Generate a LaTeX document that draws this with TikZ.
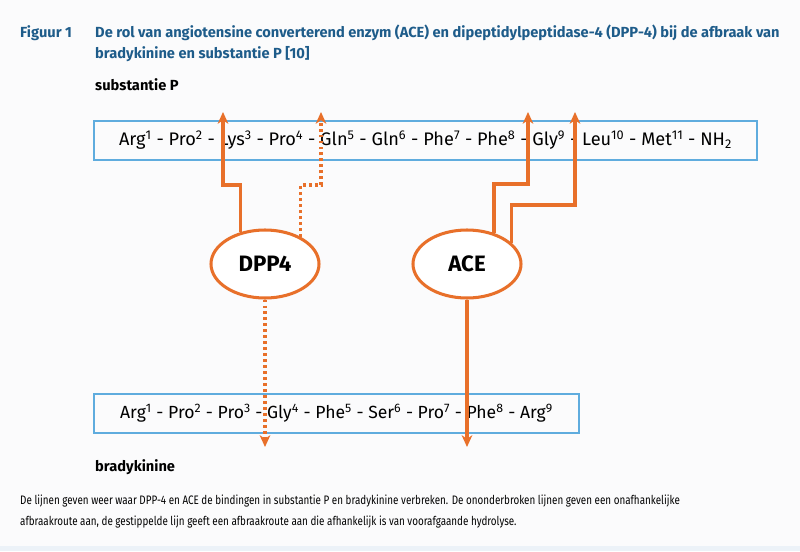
\documentclass[tikz,border=0pt]{standalone}
\usepackage{fontspec}
\setmainfont{Fira Sans}
\newfontfamily\condfont{Fira Sans}[FakeStretch=0.8]
\usepackage{xcolor}
\usetikzlibrary{shapes,arrows.meta,positioning,calc}
\definecolor{figblue}{RGB}{30,92,138}
\definecolor{cutorange}{RGB}{232,112,42}
\definecolor{boxblue}{RGB}{95,172,222}
\definecolor{pagebg}{RGB}{251,251,252}
\definecolor{stripbg}{RGB}{236,242,248}

\begin{document}
\begin{tikzpicture}[x=0.03cm,y=-0.03cm,
        chain/.style={draw=boxblue,line width=1.3pt,minimum height=1.17cm,inner sep=0pt,font=\fontsize{15.5}{18}\selectfont},
        enz/.style={ellipse,draw=cutorange,line width=2.6pt,fill=white,minimum width=3.24cm,minimum height=2.04cm,inner sep=0pt,font=\bfseries\fontsize{19}{19}\selectfont},
        cut/.style={draw=cutorange,line width=2.6pt,-{Stealth[length=10pt,width=9pt,inset=3pt]}},
        dots/.style={dash pattern=on 2.5pt off 2.6pt},
        lbl/.style={anchor=west,inner sep=0pt,font=\bfseries\fontsize{12.5}{17.8}\selectfont}]
    % page
    \fill[pagebg] (0,0) rectangle (800,551);
    \fill[stripbg] (0,546) rectangle (800,551);
    % caption
    \node[lbl,text=figblue] (fig) at (20,33) {Figuur 1};
    \node[lbl,text=figblue,anchor=north west,align=left] (title) at (95,25) {De rol van angiotensine converterend enzym (ACE) en dipeptidylpeptidase-4 (DPP-4) bij de afbraak van\\bradykinine en substantie P [10]};
    \node[lbl] (nameP) at (95,85) {substantie P};
    \node[lbl] (nameB) at (95,467) {bradykinine};
    % peptides
    \node[chain,minimum width=19.89cm] (subP) at (425.5,140.5) {Arg\textsuperscript{1} - Pro\textsuperscript{2} - Lys\textsuperscript{3} - Pro\textsuperscript{4} - Gln\textsuperscript{5} - Gln\textsuperscript{6} - Phe\textsuperscript{7} - Phe\textsuperscript{8} - Gly\textsuperscript{9} - Leu\textsuperscript{10} - Met\textsuperscript{11} - NH\textsubscript{2}};
    \node[chain,minimum width=14.55cm,font=\fontsize{15}{18}\selectfont] (brady) at (336.5,413.5) {Arg\textsuperscript{1} - Pro\textsuperscript{2} - Pro\textsuperscript{3} - Gly\textsuperscript{4} - Phe\textsuperscript{5} - Ser\textsuperscript{6} - Pro\textsuperscript{7} - Phe\textsuperscript{8} - Arg\textsuperscript{9}};
    % enzymes
    \node[enz] (dpp) at (265,264) {DPP4};
    \node[enz] (ace) at (467,264) {ACE};
    % cut sites
    \foreach \n/\x in {1/223,2/321,3/528,4/575}
        \coordinate (up\n) at (\x,112);
    \coordinate (dn1) at (265,447);
    \coordinate (dn2) at (467,447);
    \draw[cut] (dpp.128) |- (223,185) -- (up1);
    \draw[cut,dots] (dpp.37) |- (321,185) -- (up2);
    \draw[cut] (ace.49) |- (528,184) -- (up3);
    \draw[cut] (ace.25) |- (575,205) -- (up4);
    \draw[cut,dots] (dpp.south) -- (dn1);
    \draw[cut] (ace.south) -- (dn2);
    % note
    \node[anchor=north west,inner sep=0pt,align=left,font=\condfont\fontsize{10.5}{17.8}\selectfont] (note) at (20,495) {De lijnen geven weer waar DPP-4 en ACE de bindingen in substantie P en bradykinine verbreken. De ononderbroken lijnen geven een onafhankelijke\\afbraakroute aan, de gestippelde lijn geeft een afbraakroute aan die afhankelijk is van voorafgaande hydrolyse.};
\end{tikzpicture}
\end{document}
